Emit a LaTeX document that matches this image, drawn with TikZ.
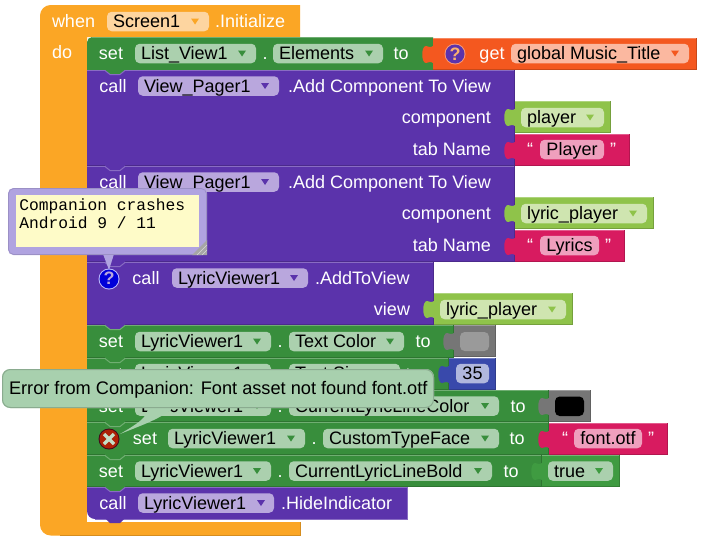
\documentclass[tikz,border=0pt]{standalone}
\usepackage{fontspec}
\setmainfont{Liberation Sans}
\newfontfamily\cmtfont{Liberation Mono}
\definecolor{corange}{HTML}{FBA625}
\definecolor{cgreen}{HTML}{388E3C}
\definecolor{ctrue}{HTML}{3F9B41}
\definecolor{cpurple}{HTML}{5B33AB}
\definecolor{cgray}{HTML}{767676}
\definecolor{clime}{HTML}{8FC34A}
\definecolor{cpink}{HTML}{D81B60}
\definecolor{cdeep}{HTML}{F4581F}
\definecolor{cblue}{HTML}{3949AB}
\definecolor{lorange}{HTML}{FDD5A0}
\definecolor{lgreen}{HTML}{ABD0AE}
\definecolor{lpurple}{HTML}{B9A7DD}
\definecolor{llime}{HTML}{CFE5B0}
\definecolor{lpink}{HTML}{EF9FBD}
\definecolor{ldeep}{HTML}{FBB8A0}
\definecolor{lblue}{HTML}{B0B7DD}
\definecolor{lgray}{HTML}{9A9A9A}
\definecolor{bubble}{HTML}{B0A3E0}
\definecolor{note}{HTML}{FEFBC8}
\definecolor{tipfill}{HTML}{A8D0AE}
\newcounter{lbl}
\tikzset{
  lab/.style={inner sep=0pt,outer sep=0pt,font=\fontsize{13.5pt}{16pt}\selectfont},
  fieldbox/.style={rounded corners=3.5pt},
  cmttext/.style={inner sep=0pt,anchor=base west,font=\cmtfont\fontsize{12.2pt}{13.5pt}\selectfont},
}
% anchor, colour, x, y centre, text
\newcommand\tx[5]{\stepcounter{lbl}\node[lab,anchor=#1,text=#2] (t\thelbl) at (#3,#4+6) {#5};}
% plain rectangular block
\newcommand\blk[5]{%
  \fill[#5] (#1,#2) rectangle (#3,#4);
  \draw[#5!72!white,line width=.75pt] (#1,#2+.5) -- (#3,#2+.5);
  \draw[#5!82!black,line width=.75pt] (#3-.5,#2) -- (#3-.5,#4-.5) -- (#1,#4-.5);}
% statement connector bump: y, colour, edge colour
\newcommand\bump[3]{\fill[#2] (105,#1-1) -- (105,#1) -- (110,#1+4) -- (120,#1+4) -- (125,#1) -- (125,#1-1) -- cycle;
  \draw[#3,line width=.75pt] (105,#1+.5) -- (110,#1+4.5) -- (120,#1+4.5) -- (125,#1+.5);}
% output tab: x, top of block, colour
\newcommand\tab[3]{\fill[#3] (#1+1,#2+7) .. controls (#1-2,#2+10) and (#1-3,#2+9) .. (#1-7,#2+8)
  .. controls (#1-12,#2+8) and (#1-12,#2+25) .. (#1-7,#2+25)
  .. controls (#1-3,#2+24) and (#1-2,#2+23) .. (#1+1,#2+26) -- cycle;}
% field: x1, x2, yc, fill, triangle colour, triangle x, text
\newcommand\fld[7]{%
  \fill[#4,fieldbox] (#1,#3-9.75) rectangle (#2,#3+9.75);
  \fill[#5] (#6-4,#3-3) -- (#6+4,#3-3) -- (#6,#3+3) -- cycle;
  \tx{base west}{black}{#1+6}{#3}{#7}}
% text field with no triangle
\newcommand\sfld[5]{%
  \fill[#4,fieldbox] (#1,#3-9.75) rectangle (#2,#3+9.75);
  \tx{base}{black}{0.5*#1+0.5*#2}{#3}{#5}}
\begin{document}
\begin{tikzpicture}[x=0.75pt,y=-0.75pt]
\useasboundingbox (0,0) rectangle (702,546);
\fill[white] (0,0) rectangle (702,546);
% orange event block
\fill[corange] (87,37) -- (87,522) -- (300,522) -- (300,535.5)
  {[rounded corners=8pt] -- (40,535.5) -- (40,5)} -- (300,5) -- (300,37) -- cycle;
\draw[corange!85!black,line width=.75pt] (300,522) -- (300,535.5) -- (60,535.5);
\fill[white] (87,505) rectangle (110,522);
% statement blocks
\fill[cgreen] (87,70) {[rounded corners=4pt] -- (87,37)} -- (433,37) -- (433,70) -- cycle;
\draw[cgreen!72!white,line width=.75pt] (92,37.5) -- (433,37.5);
\blk{87}{70}{515}{166}{cpurple}
\blk{87}{166}{515}{262}{cpurple}
\blk{87}{262}{434}{325}{cpurple}
\blk{87}{325}{454}{358}{cgreen}
\blk{87}{358}{449}{390}{cgreen}
\blk{87}{390}{549}{422}{cgreen}
\blk{87}{422}{549}{455}{cgreen}
\blk{87}{455}{542}{487}{cgreen}
\fill[cpurple] (87,487) {[rounded corners=6pt] -- (87,519)} -- (407,519) -- (407,487) -- cycle;
\draw[cpurple!72!white,line width=.75pt] (87,487.5) -- (407,487.5) -- (407,519) -- (95,519);
\bump{70}{cgreen}{cpurple!72!white}
\bump{166}{cpurple}{cpurple!72!white}
\bump{262}{cpurple}{cpurple!72!white}
\bump{325}{cpurple}{cgreen!72!white}
\bump{358}{cgreen}{cgreen!72!white}
\bump{390}{cgreen}{cgreen!72!white}
\bump{422}{cgreen}{cgreen!72!white}
\bump{455}{cgreen}{cgreen!72!white}
\bump{487}{cgreen}{cpurple!72!white}
\fill[cpurple] (105,518) -- (110,523) -- (120,523) -- (125,518) -- cycle;
% value blocks
\blk{433}{38}{697}{70}{cdeep}\tab{433}{38}{cdeep}
\blk{515}{101}{611}{133}{clime}\tab{515}{101}{clime}
\blk{515}{134}{630}{166}{cpink}\tab{515}{134}{cpink}
\blk{515}{197}{654}{229}{clime}\tab{515}{197}{clime}
\blk{515}{230}{625}{262}{cpink}\tab{515}{230}{cpink}
\blk{434}{293}{573}{325}{clime}\tab{434}{293}{clime}
\blk{454}{325}{496}{357}{cgray}\tab{454}{325}{cgray}
\blk{449}{358}{496}{390}{cblue}\tab{449}{358}{cblue}
\blk{549}{390}{591}{422}{cgray}\tab{549}{390}{cgray}
\blk{549}{423}{668}{455}{cpink}\tab{549}{423}{cpink}
\blk{542}{455}{620}{487}{ctrue}\tab{542}{455}{ctrue}
% when
\tx{base west}{white}{52}{21}{when}
\fld{107}{209}{21.5}{lorange}{corange}{195}{Screen1}
\tx{base west}{white}{215}{21}{.Initialize}
\tx{base west}{white}{52}{52}{do}
% set Elements
\tx{base}{white}{111}{53}{set}
\fld{135}{256}{53.5}{lgreen}{cgreen}{242}{List\_View1}
\tx{base}{white}{265}{53}{.}
\fld{273}{383}{53.5}{lgreen}{cgreen}{369}{Elements}
\tx{base}{white}{401}{53}{to}
\fill[cdeep!60!white] (455,54) circle (10.5);
\fill[cpurple] (455,54) circle (9.5);
\tx{base}{ldeep!60!corange}{455}{54}{\bfseries ?}
\tx{base}{white}{492}{53}{get}
\fld{511}{689}{53.5}{ldeep}{cdeep}{675}{global Music\_Title}
% first call
\tx{base}{white}{113}{86}{call}
\fld{138}{279}{86}{lpurple}{cpurple}{265}{View\_Pager1}
\tx{base east}{white}{491}{86}{.Add Component To View}
\tx{base east}{white}{491}{117}{component}
\tx{base east}{white}{491}{149}{tab Name}
\fld{521}{604}{117.5}{llime}{clime}{590}{player}
\tx{base}{white}{530}{149.5}{“}
\sfld{540}{604}{149.5}{lpink}{Player}
\tx{base}{white}{613}{149.5}{”}
% second call
\tx{base}{white}{113}{182}{call}
\fld{138}{279}{182}{lpurple}{cpurple}{265}{View\_Pager1}
\tx{base east}{white}{491}{182}{.Add Component To View}
\tx{base east}{white}{491}{213}{component}
\tx{base east}{white}{491}{245}{tab Name}
\fld{521}{647}{213.5}{llime}{clime}{633}{lyric\_player}
\tx{base}{white}{530}{245.5}{“}
\sfld{540}{599}{245.5}{lpink}{Lyrics}
\tx{base}{white}{608}{245.5}{”}
% third call
\tx{base}{white}{146}{278}{call}
\fld{172}{308}{278}{lpurple}{cpurple}{294}{LyricViewer1}
\tx{base west}{white}{315}{278}{.AddToView}
\tx{base east}{white}{410}{309}{view}
\fld{440}{566}{309.5}{llime}{clime}{552}{lyric\_player}
% text color
\tx{base}{white}{111}{341}{set}
\fld{135}{271}{341.5}{lgreen}{cgreen}{257}{LyricViewer1}
\tx{base}{white}{280}{341}{.}
\fld{289}{404}{341.5}{lgreen}{cgreen}{390}{Text Color}
\tx{base}{white}{423}{341}{to}
\fill[lgray,fieldbox] (460,332) rectangle (489,351);
% text size
\tx{base}{white}{111}{374}{set}
\fld{135}{271}{373.5}{lgreen}{cgreen}{257}{LyricViewer1}
\tx{base}{white}{280}{374}{.}
\fld{289}{400}{373.5}{lgreen}{cgreen}{386}{Text Size}
\tx{base}{white}{413}{374}{to}
\sfld{456}{489}{373.5}{lblue}{35}
% line color
\tx{base}{white}{111}{406}{set}
\fld{135}{271}{406}{lgreen}{cgreen}{257}{LyricViewer1}
\tx{base}{white}{280}{406}{.}
\fld{289}{499}{406}{lgreen}{cgreen}{485}{CurrentLyricLineColor}
\tx{base}{white}{518}{406}{to}
\fill[black,fieldbox] (555,396.5) rectangle (584,416);
% typeface
\fill[black!70!cpink] (109,439) circle (10.5);
\fill[red!60!black!80!corange] (109,439) circle (9.5);
\draw[lgreen!70!white,line width=2.6pt] (104,434) -- (114,444) (114,434) -- (104,444);
\tx{base}{white}{145}{438}{set}
\fld{168}{305}{438.5}{lgreen}{cgreen}{291}{LyricViewer1}
\tx{base}{white}{314}{438}{.}
\fld{323}{499}{438.5}{lgreen}{cgreen}{485}{CustomTypeFace}
\tx{base}{white}{517}{438}{to}
\tx{base}{white}{565}{438.5}{“}
\sfld{574}{642}{438.5}{lpink}{font.otf}
\tx{base}{white}{651}{438.5}{”}
% bold
\tx{base}{white}{111}{471}{set}
\fld{135}{271}{471}{lgreen}{cgreen}{257}{LyricViewer1}
\tx{base}{white}{280}{471}{.}
\fld{289}{492}{471}{lgreen}{cgreen}{478}{CurrentLyricLineBold}
\tx{base}{white}{511}{471}{to}
\fld{548}{613}{471}{lgreen}{ctrue}{599}{true}
% hide
\tx{base}{white}{113}{503}{call}
\fld{138}{274}{503}{lpurple}{cpurple}{261}{LyricViewer1}
\tx{base west}{white}{281}{503}{.HideIndicator}
% comment bubble
\fill[bubble] (103,254) -- (114,254) -- (109,270) -- cycle;
\fill[white!75!blue] (109,279) circle (10.5);
\fill[blue!85!black] (109,279) circle (9.5);
\tx{base}{lpurple}{109}{278.5}{\bfseries ?}
\fill[bubble,rounded corners=4pt] (8,188) rectangle (207,255);
\draw[bubble!88!black,rounded corners=4pt,line width=.5pt] (8.5,188.5) rectangle (206.5,254.5);
\fill[note] (16,195) rectangle (199,247);
\fill[black!35] (207,240) -- (207,255) -- (192,255) -- cycle;
\draw[black!15,line width=.5pt] (207,245) -- (197,255) (207,250) -- (202,255);
\node[cmttext] (cmt1) at (19,210) {Companion crashes};
\node[cmttext] (cmt2) at (19,228) {Android 9 / 11};
% error tooltip
\fill[tipfill] (148,405) .. controls (150,417) and (135,425) .. (120,434) .. controls (145,424) and (165,417) .. (176,405) -- cycle;
\fill[tipfill,rounded corners=6pt] (2,369) rectangle (434,408);
\draw[tipfill!82!black,rounded corners=6pt,line width=.75pt] (2.5,369.5) rectangle (433.5,407.5);
\node[lab,anchor=base west,text=black,font=\fontsize{13.65pt}{16pt}\selectfont] (tip) at (9,394) {Error from Companion: Font asset not found font.otf};
\end{tikzpicture}
\end{document}
